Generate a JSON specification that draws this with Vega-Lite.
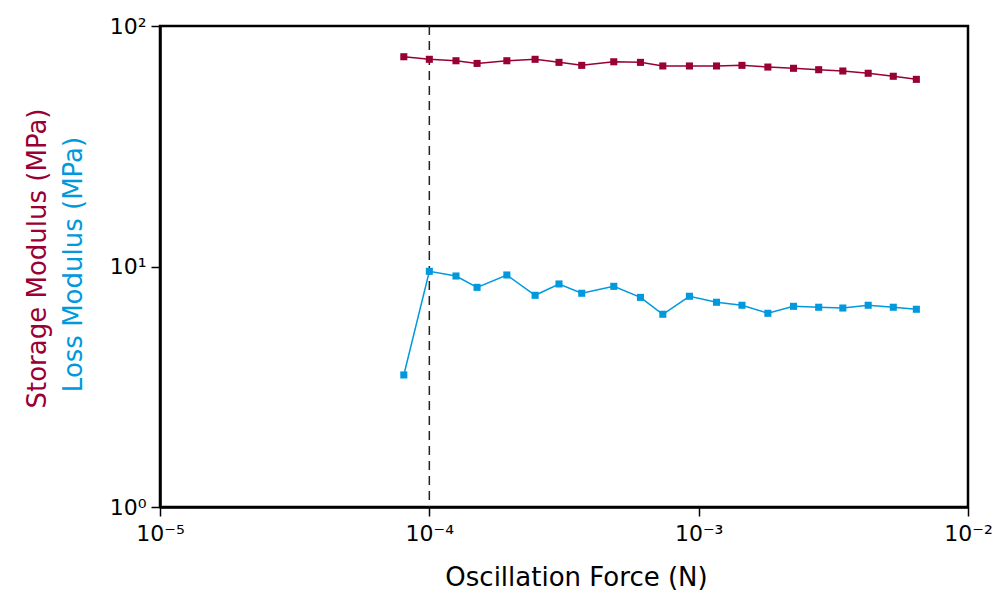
{
  "$schema": "https://vega.github.io/schema/vega-lite/v6.json",
  "width": 808,
  "height": 481,
  "autosize": "none",
  "padding": {"left": 160, "top": 26, "right": 25, "bottom": 87},
  "background": "white",
  "config": {
    "view": {"stroke": "black", "strokeWidth": 2.5},
    "font": "DejaVu Sans",
    "axis": {
      "grid": false,
      "domainColor": "black",
      "domainWidth": 2.5,
      "tickColor": "black",
      "tickWidth": 1.5,
      "tickSize": 9,
      "labelColor": "black",
      "labelFontSize": 22,
      "labelFont": "DejaVu Sans",
      "titleFont": "DejaVu Sans",
      "titleFontWeight": "normal"
    }
  },
  "datasets": {
    "ref": [{"force": 0.0001}],
    "storage": [
      {"force": 0.0000804, "modulus": 74.5},
      {"force": 0.0001, "modulus": 72.7},
      {"force": 0.0001256, "modulus": 71.7},
      {"force": 0.0001504, "modulus": 69.9},
      {"force": 0.000194, "modulus": 71.7},
      {"force": 0.000247, "modulus": 72.7},
      {"force": 0.000303, "modulus": 70.6},
      {"force": 0.000368, "modulus": 68.6},
      {"force": 0.000484, "modulus": 71.0},
      {"force": 0.000608, "modulus": 70.6},
      {"force": 0.000736, "modulus": 68.2},
      {"force": 0.000924, "modulus": 68.2},
      {"force": 0.001165, "modulus": 68.2},
      {"force": 0.001448, "modulus": 68.6},
      {"force": 0.001807, "modulus": 67.5},
      {"force": 0.00225, "modulus": 66.7},
      {"force": 0.00279, "modulus": 65.8},
      {"force": 0.00343, "modulus": 65.0},
      {"force": 0.00426, "modulus": 63.6},
      {"force": 0.00528, "modulus": 61.8},
      {"force": 0.00643, "modulus": 60.0}
    ],
    "loss": [
      {"force": 0.0000804, "modulus": 3.54},
      {"force": 0.0001, "modulus": 9.55},
      {"force": 0.0001256, "modulus": 9.13},
      {"force": 0.0001504, "modulus": 8.19},
      {"force": 0.000194, "modulus": 9.22},
      {"force": 0.000247, "modulus": 7.59},
      {"force": 0.000303, "modulus": 8.46},
      {"force": 0.000368, "modulus": 7.74},
      {"force": 0.000484, "modulus": 8.27},
      {"force": 0.000608, "modulus": 7.44},
      {"force": 0.000736, "modulus": 6.33},
      {"force": 0.000924, "modulus": 7.52},
      {"force": 0.001165, "modulus": 7.10},
      {"force": 0.001448, "modulus": 6.90},
      {"force": 0.001807, "modulus": 6.39},
      {"force": 0.00225, "modulus": 6.83},
      {"force": 0.00279, "modulus": 6.77},
      {"force": 0.00343, "modulus": 6.72},
      {"force": 0.00426, "modulus": 6.90},
      {"force": 0.00528, "modulus": 6.77},
      {"force": 0.00643, "modulus": 6.64}
    ]
  },
  "encoding": {
    "x": {
      "field": "force",
      "type": "quantitative",
      "scale": {"type": "log", "domain": [0.00001, 0.01], "nice": false},
      "axis": {
        "values": [0.00001, 0.0001, 0.001, 0.01],
        "labelExpr": "datum.value < 0.00005 ? '10⁻⁵' : datum.value < 0.0005 ? '10⁻⁴' : datum.value < 0.005 ? '10⁻³' : '10⁻²'",
        "labelPadding": 7,
        "labelFlush": false,
        "title": "Oscillation Force (N)",
        "titleFontSize": 26,
        "titleColor": "black",
        "titleX": 416,
        "titleY": 57
      }
    }
  },
  "layer": [
    {
      "data": {"name": "ref"},
      "mark": {"type": "rule", "color": "#222222", "strokeWidth": 1.5, "strokeDash": [9, 6]},
      "encoding": {}
    },
    {
      "data": {"name": "storage"},
      "encoding": {
        "y": {
          "field": "modulus",
          "type": "quantitative",
          "scale": {"type": "log", "domain": [1, 100], "nice": false},
          "axis": {
            "orient": "left",
            "values": [1, 10, 100],
            "labelExpr": "datum.value > 50 ? '10²' : datum.value > 5 ? '10¹' : '10⁰'",
            "labelPadding": 5,
            "labelFlush": false,
            "title": "Storage Modulus (MPa)",
            "titleColor": "#990033",
            "titleFontSize": 26,
            "titleAngle": -90,
            "titleBaseline": "middle",
            "titleX": -123,
            "titleY": 232
          }
        }
      },
      "layer": [
        {"mark": {"type": "line", "color": "#990033", "strokeWidth": 1.5}},
        {"mark": {"type": "point", "shape": "square", "filled": true, "opacity": 1, "size": 50, "color": "#990033"}}
      ]
    },
    {
      "data": {"name": "loss"},
      "encoding": {
        "y": {
          "field": "modulus",
          "type": "quantitative",
          "scale": {"type": "log", "domain": [1, 100], "nice": false},
          "axis": {
            "orient": "left",
            "values": [1, 10, 100],
            "labels": false,
            "ticks": false,
            "domain": false,
            "title": "Loss Modulus (MPa)",
            "titleColor": "#0099DD",
            "titleFontSize": 26,
            "titleAngle": -90,
            "titleBaseline": "middle",
            "titleX": -87,
            "titleY": 238
          }
        }
      },
      "layer": [
        {"mark": {"type": "line", "color": "#0099DD", "strokeWidth": 1.5}},
        {"mark": {"type": "point", "shape": "square", "filled": true, "opacity": 1, "size": 50, "color": "#0099DD"}}
      ]
    }
  ],
  "resolve": {"scale": {"y": "independent"}, "axis": {"y": "independent"}}
}
